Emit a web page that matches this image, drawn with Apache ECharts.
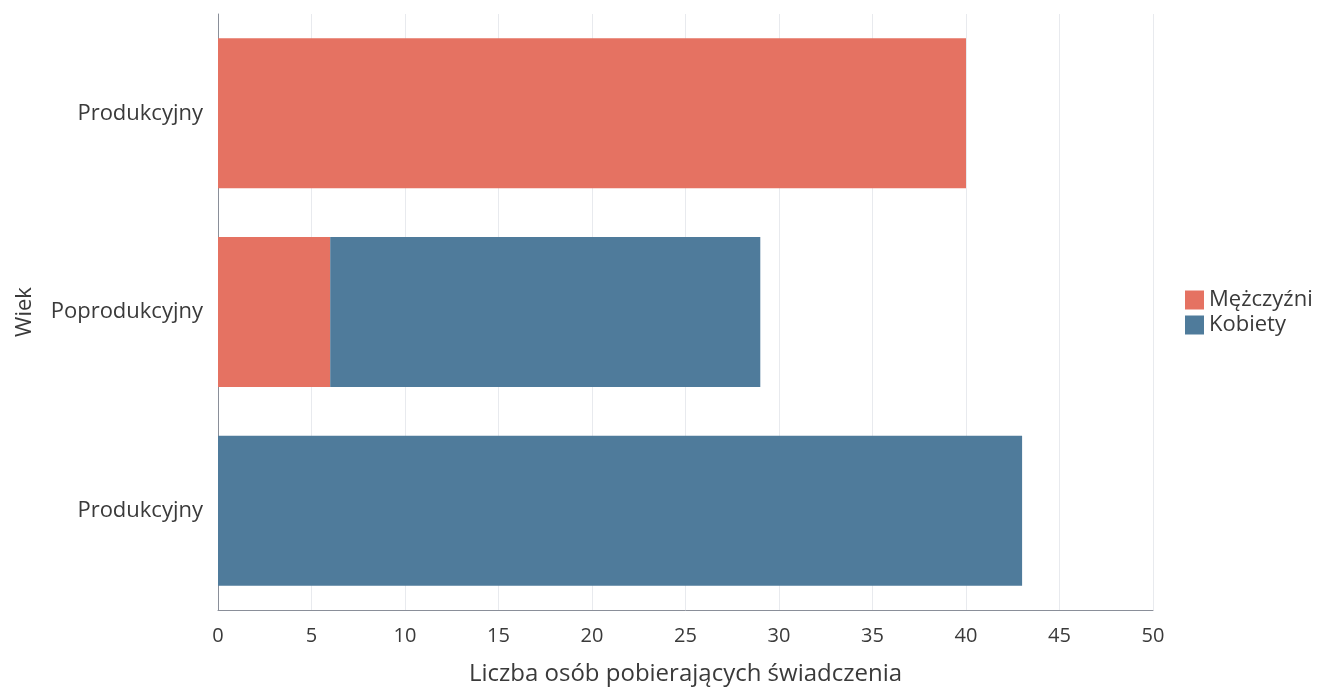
<!DOCTYPE html>
<html>
<head>
<meta charset="utf-8">
<script src="https://cdn.jsdelivr.net/npm/echarts@6/dist/echarts.min.js"></script>
<style>
html,body{margin:0;padding:0;background:#fff;}
#chart{width:1317px;height:691px;}
</style>
</head>
<body>
<div id="chart"></div>
<script>
var categories = ['Produkcyjny', 'Poprodukcyjny', 'Produkcyjny'];
var seriesNames = ['Mężczyźni', 'Kobiety'];
var menValues = [0, 6, 40];
var womenValues = [43, 23, 0];
var xTicks = [0, 5, 10, 15, 20, 25, 30, 35, 40, 45, 50];

var chart = echarts.init(document.getElementById('chart'));
var font = '"Open Sans", "Noto Sans", sans-serif';
chart.setOption({
  animation: false,
  textStyle: { fontFamily: font },
  grid: { left: 218, right: 164, top: 14, bottom: 80 },
  legend: {
    orient: 'vertical',
    left: 1180, top: 284,
    icon: 'rect',
    itemWidth: 19, itemHeight: 19, itemGap: 3,
    textStyle: { fontSize: 22, color: '#3a3a3a', fontFamily: font },
    data: seriesNames
  },
  xAxis: {
    type: 'value', min: 0, max: 50, interval: 5,
    name: 'Liczba osób pobierających świadczenia',
    nameLocation: 'middle', nameGap: 52,
    nameTextStyle: { fontSize: 24, color: '#3a3a3a', fontFamily: font },
    axisLine: { show: true, lineStyle: { color: '#8a8f99', width: 1 } },
    axisTick: { show: false },
    axisLabel: { fontSize: 20, color: '#3a3a3a', margin: 16, fontFamily: font,
      formatter: function (v) { return xTicks.indexOf(v) >= 0 ? String(v) : ''; } },
    splitLine: { show: true, lineStyle: { color: '#e8eaee', width: 1 } }
  },
  yAxis: {
    type: 'category', data: categories,
    name: 'Wiek', nameLocation: 'middle', nameGap: 182,
    nameTextStyle: { fontSize: 22, color: '#3a3a3a', fontFamily: font },
    axisLine: { show: true, lineStyle: { color: '#8a8f99', width: 1 } },
    axisTick: { show: false },
    axisLabel: { fontSize: 22, color: '#3a3a3a', margin: 15, fontFamily: font }
  },
  series: [
    {
      name: seriesNames[0], type: 'bar', stack: 'total', barCategoryGap: '24.5%',
      itemStyle: { color: '#e57262' },
      data: menValues
    },
    {
      name: seriesNames[1], type: 'bar', stack: 'total', barCategoryGap: '24.5%',
      itemStyle: { color: '#4f7b9b' },
      data: womenValues
    }
  ]
});
</script>
</body>
</html>
